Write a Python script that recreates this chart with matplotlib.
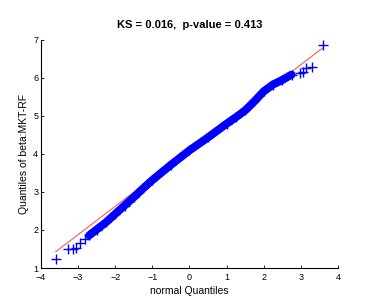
import matplotlib
matplotlib.use("Agg")
import matplotlib.pyplot as plt

# ---- data ----
low_tail_x = [-3.60, -3.26, -3.13, -3.06, -2.95, -2.81]
low_tail_y = [1.24, 1.49, 1.49, 1.52, 1.66, 1.75]

band_x = [-2.70, -2.50, -2.25, -2.00, -1.75, -1.50, -1.25, -1.00, -0.50, 0.00,
          0.50, 1.00, 1.25, 1.50, 1.75, 2.00, 2.25, 2.50, 2.75]
band_y = [1.86, 2.01, 2.20, 2.42, 2.64, 2.86, 3.09, 3.31, 3.71, 4.09,
          4.43, 4.79, 4.96, 5.14, 5.38, 5.64, 5.82, 5.94, 6.08]

high_tail_x = [2.98, 3.07, 3.14, 3.30, 3.59]
high_tail_y = [6.12, 6.16, 6.25, 6.27, 6.86]

ref_x = [-3.60, 3.59]
ref_y = [1.43, 6.78]

title = "KS = 0.016,  p-value = 0.413"
xlabel = "normal Quantiles"
ylabel = "Quantiles of beta:MKT-RF"
xticks = [-4, -3, -2, -1, 0, 1, 2, 3, 4]
yticks = [1, 2, 3, 4, 5, 6, 7]

plt.rcParams['font.family'] = ['Liberation Sans', 'DejaVu Sans']

fig = plt.figure(figsize=(3.74, 3.07), dpi=100)
ax = fig.add_axes([0.1096, 0.127, 0.794, 0.744])

blue = '#0000ff'
ax.plot(band_x, band_y, color=blue, lw=5.8, solid_capstyle='round',
        solid_joinstyle='round', zorder=3)
ax.plot(band_x, band_y, '+', color=blue, ms=7, mew=1.0, zorder=3)
ax.plot(low_tail_x, low_tail_y, '+', color=blue, ms=7, mew=1.0, zorder=3)
ax.plot(high_tail_x, high_tail_y, '+', color=blue, ms=7, mew=1.0, zorder=3)
ax.plot(ref_x, ref_y, '-', color='#ff5a5a', lw=0.8, zorder=2)

ax.set_xlim(-4, 4)
ax.set_ylim(1, 7)
ax.set_xticks(xticks)
ax.set_yticks(yticks)
ax.tick_params(direction='in', length=2.5, width=0.6, labelsize=6.5,
               top=False, right=False)
ax.tick_params(axis='x', pad=3.5)
ax.tick_params(axis='y', pad=2)
for s in ['top', 'right']:
    ax.spines[s].set_visible(False)
for s in ['left', 'bottom']:
    ax.spines[s].set_linewidth(0.8)

ax.set_title(title, fontsize=8, fontweight='bold', pad=8)
ax.set_xlabel(xlabel, fontsize=7.5, labelpad=3)
ax.set_ylabel(ylabel, fontsize=7.5, labelpad=3)

fig.savefig('out.png', dpi=100)
